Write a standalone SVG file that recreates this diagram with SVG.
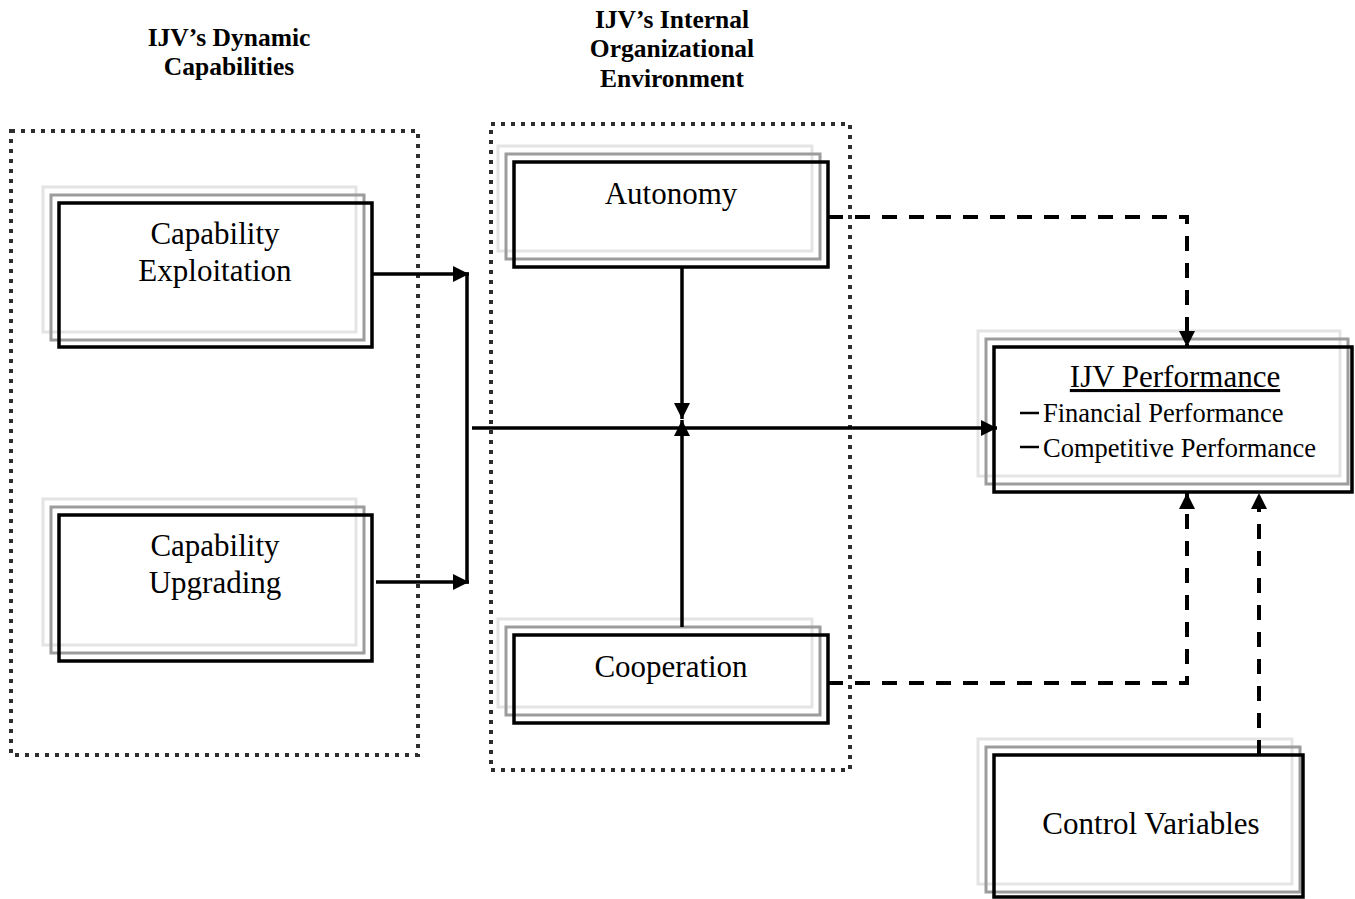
<svg xmlns="http://www.w3.org/2000/svg" width="1355" height="899" viewBox="0 0 1355 899">
  <style>
    .title { font-family: "Liberation Serif", "Times New Roman", serif; font-weight: bold; font-size: 25.5px; fill: #000; text-anchor: middle; }
    .label { font-family: "Liberation Serif", "Times New Roman", serif; font-size: 31px; fill: #000; text-anchor: middle; }
    .sub { font-family: "Liberation Serif", "Times New Roman", serif; font-size: 26.5px; fill: #000; }
    .container { fill: none; stroke: #2e2e2e; stroke-width: 4; stroke-dasharray: 4 6; }
    .light { fill: none; stroke: #e4e4e4; stroke-width: 3; }
    .gray { fill: none; stroke: #9c9c9c; stroke-width: 3; }
    .box { fill: none; stroke: #000; stroke-width: 3.5; }
    .solid { fill: none; stroke: #000; stroke-width: 3.5; }
    .dashed { fill: none; stroke: #000; stroke-width: 4; stroke-dasharray: 15 12; }
    .dash-mark { stroke: #000; stroke-width: 2.5; }
  </style>
  <defs>
    <marker id="arrow" markerUnits="userSpaceOnUse" markerWidth="17" markerHeight="17" refX="16" refY="8" orient="auto">
      <path d="M0,0 L16,8 L0,16 z" fill="#000"/>
    </marker>
  </defs>

  <rect width="1355" height="899" fill="#fff"/>

  <!-- Titles -->
  <g id="title-dynamic">
    <text class="title" x="229" y="46">IJV’s Dynamic</text>
    <text class="title" x="229" y="75">Capabilities</text>
  </g>
  <g id="title-internal">
    <text class="title" x="672" y="28">IJV’s Internal</text>
    <text class="title" x="672" y="57">Organizational</text>
    <text class="title" x="672" y="87">Environment</text>
  </g>

  <!-- Containers -->
  <g id="container-dynamic">
    <rect class="container" x="11" y="131" width="407" height="624"/>
  </g>
  <g id="container-internal">
    <rect class="container" x="491" y="124" width="359" height="646"/>
  </g>

  <!-- Nodes -->
  <g id="capability-exploitation">
    <rect class="light" x="43" y="187" width="313" height="145"/>
    <rect class="gray" x="51" y="195" width="313" height="145"/>
    <rect class="box" x="59" y="203" width="313" height="144"/>
    <text class="label" x="215" y="244">Capability</text>
    <text class="label" x="215" y="281">Exploitation</text>
  </g>
  <g id="capability-upgrading">
    <rect class="light" x="43" y="499" width="313" height="146"/>
    <rect class="gray" x="51" y="507" width="313" height="146"/>
    <rect class="box" x="59" y="515" width="313" height="146"/>
    <text class="label" x="215" y="556">Capability</text>
    <text class="label" x="215" y="593">Upgrading</text>
  </g>
  <g id="autonomy">
    <rect class="light" x="498" y="146" width="314" height="105"/>
    <rect class="gray" x="506" y="154" width="314" height="105"/>
    <rect class="box" x="514" y="162" width="314" height="105"/>
    <text class="label" x="671" y="204">Autonomy</text>
  </g>
  <g id="cooperation">
    <rect class="light" x="498" y="619" width="314" height="88"/>
    <rect class="gray" x="506" y="627" width="314" height="88"/>
    <rect class="box" x="514" y="635" width="314" height="88"/>
    <text class="label" x="671" y="677">Cooperation</text>
  </g>
  <g id="ijv-performance">
    <rect class="light" x="978" y="331" width="362" height="145"/>
    <rect class="gray" x="986" y="339" width="362" height="145"/>
    <rect class="box" x="994" y="347" width="358" height="145"/>
    <text class="label" x="1175" y="387" text-decoration="underline">IJV Performance</text>
    <line class="dash-mark" x1="1020" y1="413" x2="1039" y2="413"/>
    <text class="sub" x="1043" y="422">Financial Performance</text>
    <line class="dash-mark" x1="1020" y1="447" x2="1039" y2="447"/>
    <text class="sub" x="1043" y="457">Competitive Performance</text>
  </g>
  <g id="control-variables">
    <rect class="light" x="978" y="739" width="314" height="145"/>
    <rect class="gray" x="986" y="747" width="314" height="145"/>
    <rect class="box" x="994" y="755" width="309" height="142"/>
    <text class="label" x="1151" y="834">Control Variables</text>
  </g>

  <!-- Connectors -->
  <g id="connectors">
    <line class="solid" x1="372" y1="274" x2="469" y2="274" marker-end="url(#arrow)"/>
    <line class="solid" x1="376" y1="582" x2="469" y2="582" marker-end="url(#arrow)"/>
    <line class="solid" x1="467" y1="272.5" x2="467" y2="583.5"/>
    <line class="solid" x1="472" y1="428" x2="997" y2="428" marker-end="url(#arrow)"/>
    <line class="solid" x1="682" y1="267" x2="682" y2="419" marker-end="url(#arrow)"/>
    <line class="solid" x1="682" y1="627" x2="682" y2="420" marker-end="url(#arrow)"/>
    <path class="dashed" d="M828,217 H1187 V347" marker-end="url(#arrow)"/>
    <path class="dashed" d="M828,683 H1187 V493" marker-end="url(#arrow)"/>
    <path class="dashed" d="M1259,755 V493" marker-end="url(#arrow)"/>
  </g>
</svg>
